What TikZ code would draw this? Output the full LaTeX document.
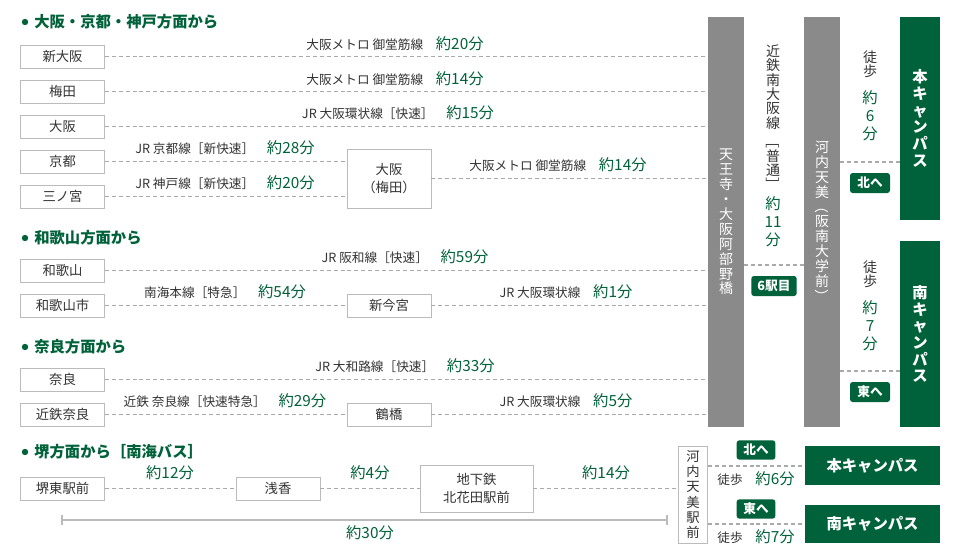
\documentclass[tikz,border=0pt]{standalone}
\usepackage{fontspec}
\setmainfont{Noto Sans CJK JP}
\usepackage{graphicx}
\definecolor{grn}{HTML}{00623A}
\definecolor{bar}{HTML}{8A8A8A}
\definecolor{dsh}{HTML}{AAAAAA}
\definecolor{bx}{HTML}{BBBBBB}
\definecolor{tx}{HTML}{333333}
\newcommand{\rb}[1]{\rotatebox[origin=c]{-90}{#1}}
\newcommand{\gm}[1]{{\color{grn}\fontsize{11.5}{13}\selectfont #1}}
\begin{document}
\begin{tikzpicture}[x=0.75pt,y=-0.75pt,
 stn/.style={draw=bx,fill=white,text=tx,minimum width=63pt,minimum height=17pt,inner sep=0,font=\fontsize{10}{11}\selectfont},
 dl/.style={draw=dsh,dashed,dash pattern=on 3pt off 2.2pt,line width=0.8pt},
 lab/.style={text=tx,font=\fontsize{9.5}{11}\selectfont,inner sep=0},
 hd/.style={text=grn,font=\bfseries\fontsize{11.5}{13}\selectfont,anchor=west,inner sep=0},
 gbox/.style={fill=grn,text=white,inner sep=0,font=\bfseries\fontsize{9.5}{11}\selectfont,rounded corners=2pt},
 vbar/.style={fill=bar,text=white,inner sep=0,font=\fontsize{10.5}{11.2}\selectfont,align=center},
 vt/.style={text=tx,inner sep=0,font=\fontsize{10.5}{10.8}\selectfont,align=center},
 vg/.style={text=grn,inner sep=0,font=\fontsize{11.5}{13.5}\selectfont,align=center},
 camp/.style={fill=grn,text=white,inner sep=0,font=\bfseries\fontsize{11.5}{12.5}\selectfont,align=center}]
\fill[white] (0,0) rectangle (960,560);
% headers
\foreach \y/\t [count=\i] in {22/大阪・京都・神戸方面から,238/和歌山方面から,347/奈良方面から,452/堺方面から［南海バス］}{
 \fill[grn] (25,\y) circle (3.2);
 \node[hd] (h\i) at (34,\y) {\t};}
% bars
\node[vbar,minimum width=27pt,minimum height=307.5pt] (ten) at (726,222) {天\\王\\寺\\・\\大\\阪\\阿\\部\\野\\橋};
\node[vbar,minimum width=27pt,minimum height=307.5pt] (kaw) at (822,222) {河\\内\\天\\美\\\rb{（}\\阪\\南\\大\\学\\前\\\rb{）}};
\node[camp,minimum width=30pt,minimum height=152pt] (hon) at (920,118.5) {本\\キ\\ャ\\ン\\パ\\ス};
\node[camp,minimum width=30pt,minimum height=139.5pt] (min) at (920,334) {南\\キ\\ャ\\ン\\パ\\ス};
% between bars
\node[vt] (kin) at (773,118) {近\\鉄\\南\\大\\阪\\線\\[3pt]\rb{［}\\普\\通\\\rb{］}};
\node[vg] (k11) at (773,222) {約\\11\\分};
\draw[dl] (ten.east|-0,265) -- (kaw.west|-0,265);
\node[gbox,minimum width=34pt,minimum height=15pt] (r6) at (774,286) {6駅目};
\node[vt] (w1) at (870,64) {徒\\歩};
\node[vg] (m6) at (870,116) {約\\6\\分};
\draw[dl] (kaw.east|-0,162) -- (hon.west|-0,162);
\node[gbox,minimum width=30pt,minimum height=15pt] (kita) at (870,183) {北へ};
\node[vt] (w2) at (870,274) {徒\\歩};
\node[vg] (m7) at (870,326) {約\\7\\分};
\draw[dl] (kaw.east|-0,371) -- (min.west|-0,371);
\node[gbox,minimum width=30pt,minimum height=15pt] (higa) at (870,392) {東へ};
% stations
\node[stn] (s1) at (62.5,56.5) {新大阪};
\node[stn] (s2) at (62.5,91.5) {梅田};
\node[stn] (s3) at (62.5,126.5) {大阪};
\node[stn] (s4) at (62.5,161.5) {京都};
\node[stn] (s5) at (62.5,196.5) {三ノ宮};
\node[stn,align=center,minimum height=44pt,font=\fontsize{10}{14}\selectfont] (ume) at (389,178.5) {大阪\\（梅田）};
\node[stn] (s6) at (62.5,270.5) {和歌山};
\node[stn] (s7) at (62.5,305.5) {和歌山市};
\node[stn] (shin) at (389,305.5) {新今宮};
\node[stn] (s8) at (62.5,379.5) {奈良};
\node[stn] (s9) at (62.5,414.5) {近鉄奈良};
\node[stn] (tsu) at (389,414.5) {鶴橋};
% lines
\foreach \s in {s1,s2,s3,s6,s8}{\draw[dl] (\s.east) -- (\s.east-|ten.west);}
\draw[dl] (s4.east) -- (s4.east-|ume.west);
\draw[dl] (s5.east) -- (s5.east-|ume.west);
\draw[dl] (ume.east) -- (ume.east-|ten.west);
\draw[dl] (s7.east) -- (shin.west);
\draw[dl] (shin.east) -- (shin.east-|ten.west);
\draw[dl] (s9.east) -- (tsu.west);
\draw[dl] (tsu.east) -- (tsu.east-|ten.west);
% labels
\node[lab] (l1) at (395,44) {大阪メトロ 御堂筋線\quad\gm{約20分}};
\node[lab] (l2) at (395,79) {大阪メトロ 御堂筋線\quad\gm{約14分}};
\node[lab] (l3) at (398,113) {JR 大阪環状線［快速］\quad\gm{約15分}};
\node[lab] (l4) at (225,148) {JR 京都線［新快速］\quad\gm{約28分}};
\node[lab] (l5) at (225,183) {JR 神戸線［新快速］\quad\gm{約20分}};
\node[lab] (l6) at (558,165) {大阪メトロ 御堂筋線\quad\gm{約14分}};
\node[lab] (l7) at (405,257) {JR 阪和線［快速］\quad\gm{約59分}};
\node[lab] (l8) at (225,292) {南海本線［特急］\quad\gm{約54分}};
\node[lab] (l9) at (566,292) {JR 大阪環状線\quad\gm{約1分}};
\node[lab] (l10) at (405,366) {JR 大和路線［快速］\quad\gm{約33分}};
\node[lab] (l11) at (225,401) {近鉄 奈良線［快速特急］\quad\gm{約29分}};
\node[lab] (l12) at (566,401) {JR 大阪環状線\quad\gm{約5分}};
% bottom
\node[stn] (b1) at (62.5,488.5) {堺東駅前};
\node[stn] (b2) at (278,488.5) {浅香};
\node[stn,align=center,minimum width=85pt,minimum height=35pt,font=\fontsize{10}{14}\selectfont] (b3) at (476.5,488.5) {地下鉄\\北花田駅前};
\node[stn,align=center,minimum width=22pt,minimum height=73pt,font=\fontsize{10}{11.5}\selectfont] (b4) at (693,494.5) {河\\内\\天\\美\\駅\\前};
\draw[dl] (b1) -- (b2);
\draw[dl] (b2) -- (b3);
\draw[dl] (b3) -- (b3-|b4.west);
\node[lab] (t1) at (170,473) {\gm{約12分}};
\node[lab] (t2) at (370,473) {\gm{約4分}};
\node[lab] (t3) at (606,473) {\gm{約14分}};
\coordinate (ba) at (62,520); \coordinate (bb) at (667,520);
\draw[bx,line width=0.8pt] (ba) -- (bb) (62,515) -- (62,525) (667,515) -- (667,525);
\node[lab] (t4) at (370,533) {\gm{約30分}};
\node[camp,minimum width=101pt,minimum height=29pt,font=\bfseries\fontsize{11.5}{13}\selectfont] (bh) at (872.5,465.5) {本キャンパス};
\node[camp,minimum width=101pt,minimum height=29pt,font=\bfseries\fontsize{11.5}{13}\selectfont] (bm) at (872.5,524) {南キャンパス};
\draw[dl] (b4.east|-0,466) -- (bh.west|-0,466);
\draw[dl] (b4.east|-0,524) -- (bm.west|-0,524);
\node[gbox,minimum width=29pt,minimum height=14.5pt] (bk) at (756,450) {北へ};
\node[gbox,minimum width=29pt,minimum height=14.5pt] (be) at (756,509) {東へ};
\node[lab] (w3) at (756,479) {徒歩\quad\gm{約6分}};
\node[lab] (w4) at (756,537) {徒歩\quad\gm{約7分}};
\end{tikzpicture}
\end{document}
